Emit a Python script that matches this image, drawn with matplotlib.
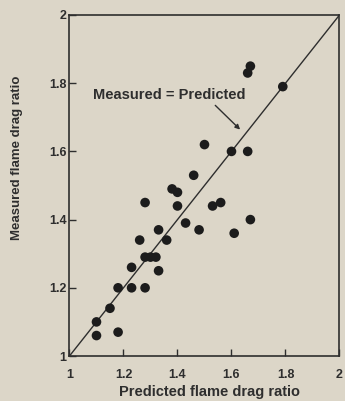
import matplotlib
matplotlib.use("Agg")
import matplotlib.pyplot as plt

# ---------------------------------------------------------- #
#  Data                        #
# ---------------------------------------------------------- #
predicted = [1.67, 1.66, 1.79, 1.50, 1.60, 1.66, 1.46, 1.38, 1.40, 1.28,
             1.40, 1.53, 1.56, 1.43, 1.48, 1.67, 1.61, 1.33, 1.36, 1.26,
             1.28, 1.30, 1.32, 1.23, 1.33, 1.18, 1.23, 1.28, 1.15, 1.10,
             1.10, 1.18]
measured = [1.85, 1.83, 1.79, 1.62, 1.60, 1.60, 1.53, 1.49, 1.48, 1.45,
            1.44, 1.44, 1.45, 1.39, 1.37, 1.40, 1.36, 1.37, 1.34, 1.34,
            1.29, 1.29, 1.29, 1.26, 1.25, 1.20, 1.20, 1.20, 1.14, 1.10,
            1.06, 1.07]

ticks = [1, 1.2, 1.4, 1.6, 1.8, 2]
tick_labels = ["1", "1.2", "1.4", "1.6", "1.8", "2"]

BG = "#dcd6c8"
INK = "#2e2e2e"
FONT = "Liberation Sans"


def main():
    fig = plt.figure(figsize=(3.45, 4.01), dpi=100, facecolor=BG)
    ax = fig.add_axes([0.2014, 0.1122, 0.7826, 0.8504], facecolor=BG)

    # one-to-one line
    ax.plot([1, 2], [1, 2], color=INK, lw=1.0, zorder=2)

    # data points
    ax.scatter(predicted, measured, s=48, color="#1c1c1c", edgecolors="none", zorder=3)

    # label with arrow pointing at the line
    ax.text(1.369, 1.765, "Measured = Predicted", ha="center", va="center",
            fontsize=10.5, fontweight="bold", family=FONT, color=INK)
    ax.annotate("", xy=(1.632, 1.664), xytext=(1.54, 1.735),
                arrowprops=dict(arrowstyle="-|>", color=INK, lw=1.0,
                                mutation_scale=7, shrinkA=0, shrinkB=0))

    ax.set_xlim(1, 2)
    ax.set_ylim(1, 2)
    ax.set_xticks(ticks)
    ax.set_yticks(ticks)
    ax.set_xticklabels(tick_labels, fontsize=9, fontweight="bold", family=FONT, color=INK)
    ax.set_yticklabels(tick_labels, fontsize=9, fontweight="bold", family=FONT, color=INK)
    ax.tick_params(axis="x", direction="in", length=5, width=1.0, color=INK, pad=9)
    ax.tick_params(axis="y", direction="in", length=5, width=1.0, color=INK, pad=2)
    for spine in ax.spines.values():
        spine.set_color(INK)
        spine.set_linewidth(1.2)

    fig.text(209.5 / 345, 1 - 392 / 401, "Predicted flame drag ratio",
             ha="center", va="center", fontsize=10.5, fontweight="bold",
             family=FONT, color=INK)
    fig.text(17 / 345, 1 - 158 / 401, "Measured flame drag ratio",
             ha="center", va="center", rotation=90, fontsize=9.5,
             fontweight="bold", family=FONT, color=INK)

    fig.savefig("out.png", dpi=100, facecolor=BG)


if __name__ == "__main__":
    main()
